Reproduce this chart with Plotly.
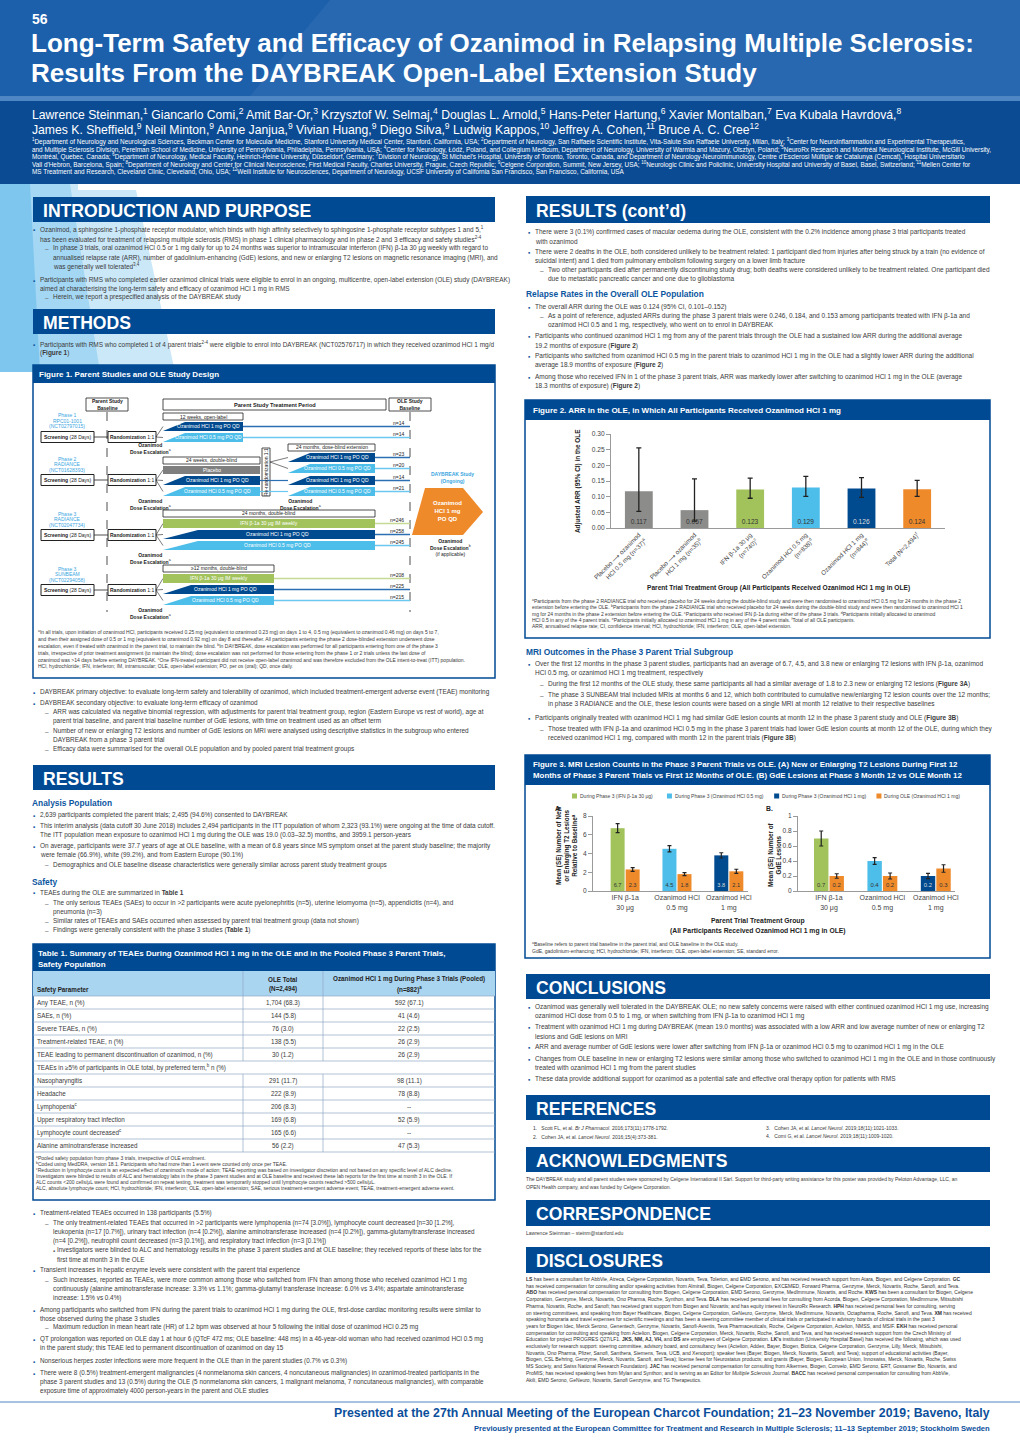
import re
import plotly.graph_objects as go

W, H = 1020, 1442
FONT = "Liberation Sans, Arial, Helvetica, sans-serif"
NAVY = "#004a94"
HEAD_BLUE = "#0c56a0"
BODY = "#3a3a3a"
GRAY_BAR = "#8c8c8a"
GREEN = "#a2c35c"
LBLUE = "#4dbde9"
DBLUE = "#004a8f"
ORANGE = "#ef8a2b"
MIN = 5.0
LSZ = 6.45   # left column body text
RSZ = 6.5    # right column body text

# ---------------- data ----------------
arr_groups = ["Placebo ⟶ ozanimod<br>HCl 0.5 mg (n=37)<sup>a</sup>",
              "Placebo ⟶ ozanimod<br>HCl 1 mg (n=35)<sup>b</sup>",
              "IFN β-1a 30 μg<br>(n=740)<sup>c</sup>",
              "Ozanimod HCl 0.5 mg<br>(n=838)<sup>d</sup>",
              "Ozanimod HCl 1 mg<br>(n=844)<sup>e</sup>",
              "Total (N=2,494)<sup>f</sup>"]
arr_values = [0.117, 0.057, 0.123, 0.129, 0.126, 0.124]
arr_ci_low = [0.053, 0.022, 0.095, 0.101, 0.098, 0.101]
arr_ci_high = [0.256, 0.157, 0.159, 0.165, 0.161, 0.152]
arr_colors = [GRAY_BAR, GRAY_BAR, GREEN, LBLUE, DBLUE, ORANGE]
arr_text_colors = ["#333", "#333", "#333", "#333", "#dddddd", "#333"]

mri_groups = ["IFN β-1a<br>30 μg", "Ozanimod HCl<br>0.5 mg", "Ozanimod HCl<br>1 mg"]
mri_pos = [0, 1, 2]
t2_phase3 = [6.7, 4.5, 3.8]
t2_phase3_se = [0.48, 0.33, 0.28]
t2_ole = [2.3, 1.8, 2.1]
t2_ole_se = [0.2, 0.15, 0.22]
gde_phase3 = [0.7, 0.4, 0.2]
gde_phase3_se = [0.1, 0.045, 0.035]
gde_ole = [0.2, 0.2, 0.3]
gde_ole_se = [0.03, 0.04, 0.05]
phase3_colors = [GREEN, LBLUE, DBLUE]
phase3_text_colors = ["#333", "#333", "#dddddd"]
legend_labels = ["During Phase 3 (IFN β-1a 30 μg)", "During Phase 3 (Ozanimod HCl 0.5 mg)",
                 "During Phase 3 (Ozanimod HCl 1 mg)", "During OLE (Ozanimod HCl 1 mg)"]
legend_colors = [GREEN, LBLUE, DBLUE, ORANGE]

table_params = ["Any TEAE, n (%)", "SAEs, n (%)", "Severe TEAEs, n (%)", "Treatment-related TEAE, n (%)",
                "TEAE leading to permanent discontinuation of ozanimod, n (%)",
                "TEAEs in ≥5% of participants in OLE total, by preferred term,<sup>b</sup> n (%)",
                "Nasopharyngitis", "Headache", "Lymphopenia<sup>c</sup>", "Upper respiratory tract infection",
                "Lymphocyte count decreased<sup>c</sup>", "Alanine aminotransferase increased"]
table_ole = ["1,704 (68.3)", "144 (5.8)", "76 (3.0)", "138 (5.5)", "30 (1.2)", "",
             "291 (11.7)", "222 (8.9)", "206 (8.3)", "169 (6.8)", "165 (6.6)", "56 (2.2)"]
table_phase3 = ["592 (67.1)", "41 (4.6)", "22 (2.5)", "26 (2.9)", "26 (2.9)", "",
                "98 (11.1)", "78 (8.8)", "--", "52 (5.9)", "--", "47 (5.3)"]

# ---------------- helpers ----------------
shapes, ann = [], []


def X(px):
    return px / W


def Y(py):
    return 1 - py / H


def rect(x0, y0, x1, y1, fill="rgba(0,0,0,0)", line="rgba(0,0,0,0)", lw=0, dash=None):
    ln = dict(color=line, width=lw)
    if dash:
        ln["dash"] = dash
    shapes.append(dict(type="rect", xref="paper", yref="paper", x0=X(x0), x1=X(x1),
                       y0=Y(y1), y1=Y(y0), fillcolor=fill, line=ln, layer="below"))


def seg(x0, y0, x1, y1, color="#222", lw=1, dash=None):
    ln = dict(color=color, width=lw)
    if dash:
        ln["dash"] = dash
    shapes.append(dict(type="line", xref="paper", yref="paper", x0=X(x0), x1=X(x1),
                       y0=Y(y0), y1=Y(y1), line=ln, layer="below"))


def poly(pts, fill, line="rgba(0,0,0,0)", lw=0):
    path = "M " + " L ".join(f"{X(a):.5f},{Y(b):.5f}" for a, b in pts) + " Z"
    shapes.append(dict(type="path", xref="paper", yref="paper", path=path, fillcolor=fill,
                       line=dict(color=line, width=lw), layer="below"))


def txt(x, y, s, size=6.2, color=BODY, bold=False, xa="left", ya="middle", angle=0):
    if bold:
        s = f"<b>{s}</b>"
    ann.append(dict(x=X(x), y=Y(y), xref="paper", yref="paper", text=s, showarrow=False,
                    xanchor=xa, yanchor=ya, textangle=angle, borderpad=0, borderwidth=0,
                    font=dict(size=max(size, MIN), color=color, family=FONT)))


def wrap(s, maxc):
    out, cur, n = [], "", 0
    for w in s.split(" "):
        wl = len(re.sub(r"<[^>]+>", "", w))
        if cur and n + 1 + wl > maxc:
            out.append(cur)
            cur, n = w, wl
        else:
            cur = f"{cur} {w}" if cur else w
            n = n + 1 + wl if n else wl
    out.append(cur)
    return out


def block(x, y0, pitch, paragraphs, maxc, size=5.0, color=BODY):
    y = y0
    for p in paragraphs:
        for ln in wrap(p, maxc):
            txt(x, y, ln, size=size, color=color)
            y += pitch


def section(x0, x1, y0, y1, title):
    rect(x0, y0, x1, y1, fill=NAVY)
    txt(x0 + 10, (y0 + y1) / 2 + 1, title, size=17.6, color="white", bold=True)


def para(base, specs, size=LSZ):
    for y, lvl, mark, s in specs:
        if lvl == 1:
            mx, tx, m, mc = base, base + 7, "▪", HEAD_BLUE
        elif lvl == 2:
            mx, tx, m, mc = base + 12, base + 20, "–", "#666"
        else:
            mx, tx, m, mc = base + 20, base + 24, "▪", "#666"
        if mark:
            txt(mx, y, m, size=size, color=mc)
        txt(tx, y, s, size=size)


# ---------------- header ----------------
rect(0, 0, W, 97, fill="#1c60ac")
poly([(330, 0), (W, 0), (W, 96), (250, 96)], fill="rgba(255,255,255,0.05)")
rect(0, 96, W, 101, fill="#4f86c4")
rect(0, 101, W, 184, fill="#0b4b93")
poly([(0, 184), (78, 184), (78, 190), (136, 190), (175, 372), (0, 372)], fill="#cbe8f8")
poly([(0, 184), (70, 184), (100, 372), (0, 372)], fill="#a4d7f4")
poly([(0, 184), (30, 184), (40, 372), (0, 372)], fill="#7fc6ee")

txt(32, 19, "56", size=14, color="white", bold=True)
txt(31, 43, "Long-Term Safety and Efficacy of Ozanimod in Relapsing Multiple Sclerosis:", size=26, color="white", bold=True)
txt(31, 73, "Results From the DAYBREAK Open-Label Extension Study", size=26, color="white", bold=True)
txt(32, 114, "Lawrence Steinman,<sup>1</sup> Giancarlo Comi,<sup>2</sup> Amit Bar-Or,<sup>3</sup> Krzysztof W. Selmaj,<sup>4</sup> Douglas L. Arnold,<sup>5</sup> Hans-Peter Hartung,<sup>6</sup> Xavier Montalban,<sup>7</sup> Eva Kubala Havrdová,<sup>8</sup>", size=12.2, color="white")
txt(32, 129, "James K. Sheffield,<sup>9</sup> Neil Minton,<sup>9</sup> Anne Janjua,<sup>9</sup> Vivian Huang,<sup>9</sup> Diego Silva,<sup>9</sup> Ludwig Kappos,<sup>10</sup> Jeffrey A. Cohen,<sup>11</sup> Bruce A. C. Cree<sup>12</sup>", size=12.2, color="white")
affil = [
    "<sup>1</sup>Department of Neurology and Neurological Sciences, Beckman Center for Molecular Medicine, Stanford University Medical Center, Stanford, California, USA; <sup>2</sup>Department of Neurology, San Raffaele Scientific Institute, Vita-Salute San Raffaele University, Milan, Italy; <sup>3</sup>Center for Neuroinflammation and Experimental Therapeutics,",
    "and Multiple Sclerosis Division, Perelman School of Medicine, University of Pennsylvania, Philadelphia, Pennsylvania, USA; <sup>4</sup>Center for Neurology, Łódź, Poland, and Collegium Medicum, Department of Neurology, University of Warmia and Mazury, Olsztyn, Poland; <sup>5</sup>NeuroRx Research and Montréal Neurological Institute, McGill University,",
    "Montréal, Quebec, Canada; <sup>6</sup>Department of Neurology, Medical Faculty, Heinrich-Heine University, Düsseldorf, Germany; <sup>7</sup>Division of Neurology, St Michael's Hospital, University of Toronto, Toronto, Canada, and Department of Neurology-Neuroimmunology, Centre d'Esclerosi Múltiple de Catalunya (Cemcat), Hospital Universitario",
    "Vall d'Hebron, Barcelona, Spain; <sup>8</sup>Department of Neurology and Center for Clinical Neuroscience, First Medical Faculty, Charles University, Prague, Czech Republic; <sup>9</sup>Celgene Corporation, Summit, New Jersey, USA; <sup>10</sup>Neurologic Clinic and Policlinic, University Hospital and University of Basel, Basel, Switzerland; <sup>11</sup>Mellen Center for",
    "MS Treatment and Research, Cleveland Clinic, Cleveland, Ohio, USA; <sup>12</sup>Weill Institute for Neurosciences, Department of Neurology, UCSF University of California San Francisco, San Francisco, California, USA",
]
for i, s in enumerate(affil):
    txt(32, 142 + i * 7.5, s, size=6.4, color="white")

# ---------------- left column ----------------
section(33, 495, 197, 222, "INTRODUCTION AND PURPOSE")
para(33, [
    (229.5, 1, True, "Ozanimod, a sphingosine 1-phosphate receptor modulator, which binds with high affinity selectively to sphingosine 1-phosphate receptor subtypes 1 and 5,<sup>1</sup>"),
    (239, 1, False, "has been evaluated for treatment of relapsing multiple sclerosis (RMS) in phase 1 clinical pharmacology and in phase 2 and 3 efficacy and safety studies<sup>2-4</sup>"),
    (248.3, 2, True, "In phase 3 trials, oral ozanimod HCl 0.5 or 1 mg daily for up to 24 months was superior to intramuscular interferon (IFN) β-1a 30 μg weekly with regard to"),
    (257.7, 2, False, "annualised relapse rate (ARR), number of gadolinium-enhancing (GdE) lesions, and new or enlarging T2 lesions on magnetic resonance imaging (MRI), and"),
    (266.7, 2, False, "was generally well tolerated<sup>3,4</sup>"),
    (280, 1, True, "Participants with RMS who completed earlier ozanimod clinical trials were eligible to enrol in an ongoing, multicentre, open-label extension (OLE) study (DAYBREAK)"),
    (288.5, 1, False, "aimed at characterising the long-term safety and efficacy of ozanimod HCl 1 mg in RMS"),
    (297.3, 2, True, "Herein, we report a prespecified analysis of the DAYBREAK study"),
])
section(33, 495, 309, 334, "METHODS")
para(33, [
    (344, 1, True, "Participants with RMS who completed 1 of 4 parent trials<sup>2-4</sup> were eligible to enrol into DAYBREAK (NCT02576717) in which they received ozanimod HCl 1 mg/d"),
    (353, 1, False, "(<b>Figure 1</b>)"),
])

# Figure 1 box
rect(33, 365, 495, 678, fill="white", line=NAVY, lw=1.5)
rect(33, 365, 495, 383, fill=NAVY)
txt(39, 374, "Figure 1. Parent Studies and OLE Study Design", size=8, color="white", bold=True)

# --- diagram ---
seg(107, 412, 107, 612, "#222", 0.8, "dash")
seg(410, 412, 410, 612, "#222", 0.8, "dash")
rect(86, 398, 128, 411, fill="white", line="#222", lw=0.8)
txt(107, 404.5, "Parent Study<br>Baseline", size=5, color="#222", bold=True, xa="center")
rect(163, 399, 386, 410, fill="white", line="#222", lw=0.8)
txt(274.5, 404.5, "Parent Study Treatment Period", size=5.6, color="#222", bold=True, xa="center")
rect(389, 398, 431, 411, fill="white", line="#222", lw=0.8)
txt(410, 404.5, "OLE Study<br>Baseline", size=5, color="#222", bold=True, xa="center")


def pbar(x0, y0, x1, y1, color, label, slant=22):
    poly([(x0, y1), (x0 + slant, y0), (x1, y0), (x1, y1)], fill=color)
    txt((x0 + slant / 2 + x1) / 2, (y0 + y1) / 2, label, size=5, color="white", xa="center")


def sbar(x0, y0, x1, y1, color, label):
    rect(x0, y0, x1, y1, fill=color)
    txt((x0 + x1) / 2, (y0 + y1) / 2, label, size=5, color="white", xa="center")


def period(x0, y0, x1, y1, label):
    rect(x0, y0, x1, y1, fill="white", line="#222", lw=0.8)
    txt((x0 + x1) / 2, (y0 + y1) / 2, label, size=5, color="#222", xa="center")


def trial(label, ly, sy, targets, esc_y):
    for i, l in enumerate(label):
        txt(67, ly + i * 5.5, l, size=5, color="#3aa6df", xa="center")
    rect(41, sy - 5.5, 94, sy + 5.5, fill="white", line="#222", lw=1)
    txt(67.5, sy, "<b>Screening</b> (28 Days)", size=5, color="#222", xa="center")
    rect(108, sy - 5.5, 156, sy + 5.5, fill="white", line="#222", lw=1)
    txt(132, sy, "<b>Randomization</b> 1:1", size=5, color="#222", xa="center")
    seg(94, sy, 108, sy, "#222", 0.8)
    for ty in targets:
        seg(156, sy, 163, ty, "#222", 0.6)
    txt(150, esc_y, "<b>Ozanimod<br>Dose Escalation</b><sup>a</sup>", size=5, color="#222", xa="center")


# row 1 (phase 1)
trial(["Phase 1", "RPC01-1001", "(NCT02797015)"], 415, 437, [426.5, 437.5], 449)
period(163, 413, 243, 420, "12 weeks, open-label")
pbar(163, 422, 243, 431, DBLUE, "Ozanimod HCl 1 mg PO QD")
pbar(163, 433, 243, 442, LBLUE, "Ozanimod HCl 0.5 mg PO QD")
seg(243, 426.5, 410, 426.5, "#2d6fb3", 1.3)
seg(243, 437.5, 410, 437.5, "#6cc8ef", 1.3)
# row 2 (phase 2)
trial(["Phase 2", "RADIANCE", "(NCT01628393)"], 459, 480, [470, 480.5, 491.5], 504)
period(163, 457, 260, 464, "24 weeks, double-blind")
sbar(163, 466, 260, 474, "#7f7f7f", "Placebo")
pbar(163, 476, 260, 485, DBLUE, "Ozanimod HCl 1 mg PO QD")
pbar(163, 487, 260, 496, LBLUE, "Ozanimod HCl 0.5 mg PO QD")
rect(262, 448, 270, 496, fill="white", line="#222", lw=0.8)
txt(266, 472, "Re-randomization 1:1", size=5, color="#222", xa="center", angle=-90)
period(288, 444, 375, 451, "24 months, dose-blind extension")
for yy in (457.5, 468.5):
    seg(270, 462, 288, yy, "#222", 0.6)
seg(260, 480.5, 288, 480.5, "#2d6fb3", 1.2)
seg(260, 491.5, 288, 491.5, "#6cc8ef", 1.2)
pbar(288, 453, 375, 462, DBLUE, "Ozanimod HCl 1 mg PO QD")
pbar(288, 464, 375, 473, LBLUE, "Ozanimod HCl 0.5 mg PO QD")
pbar(288, 476, 375, 485, DBLUE, "Ozanimod HCl 1 mg PO QD")
pbar(288, 487, 375, 496, LBLUE, "Ozanimod HCl 0.5 mg PO QD")
txt(300, 504, "<b>Ozanimod<br>Dose Escalation</b><sup>a</sup>", size=5, color="#222", xa="center")
for yy, c in ((457.5, "#2d6fb3"), (468.5, "#6cc8ef"), (480.5, "#2d6fb3"), (491.5, "#6cc8ef")):
    seg(375, yy, 410, yy, c, 1.3)
# row 3 (RADIANCE phase 3)
trial(["Phase 3", "RADIANCE", "(NCT02047734)"], 514, 535, [523.5, 534.5, 545.5], 558)
period(163, 510, 375, 517, "24 months, double-blind")
sbar(163, 519, 375, 528, GREEN, "IFN β-1a 30 μg IM weekly")
pbar(163, 530, 375, 539, DBLUE, "Ozanimod HCl 1 mg PO QD", slant=35)
pbar(163, 541, 375, 550, LBLUE, "Ozanimod HCl 0.5 mg PO QD", slant=35)
seg(375, 523.5, 410, 523.5, "#c5db95", 1.3)
seg(375, 534.5, 410, 534.5, "#2d6fb3", 1.3)
seg(375, 545.5, 410, 545.5, "#6cc8ef", 1.3)
# row 4 (SUNBEAM)
trial(["Phase 3", "SUNBEAM", "(NCT02294058)"], 569, 590, [578.5, 589.5, 600.5], 613)
period(163, 565, 274, 572, "≥12 months, double-blind")
sbar(163, 574, 274, 583, GREEN, "IFN β-1a 30 μg IM weekly")
pbar(163, 585, 274, 594, DBLUE, "Ozanimod HCl 1 mg PO QD", slant=28)
pbar(163, 596, 274, 605, LBLUE, "Ozanimod HCl 0.5 mg PO QD", slant=28)
seg(274, 578.5, 410, 578.5, "#c5db95", 1.3)
seg(274, 589.5, 410, 589.5, "#2d6fb3", 1.3)
seg(274, 600.5, 410, 600.5, "#6cc8ef", 1.3)
for yy, n in ((426.5, "n=14"), (437.5, "n=14"), (457.5, "n=23"), (468.5, "n=20"), (480.5, "n=14"), (491.5, "n=21"),
              (523.5, "n=246"), (534.5, "n=258"), (545.5, "n=245"), (578.5, "n=208"), (589.5, "n=225"), (600.5, "n=215")):
    txt(404, yy - 3.5, n, size=5, color="#222", xa="right")
# OLE arrow
poly([(425, 488), (463, 488), (483, 512), (463, 535), (412, 535)], fill=ORANGE)
txt(447, 511, "Ozanimod<br>HCl 1 mg<br>PO QD", size=6, color="white", bold=True, xa="center")
txt(452, 477, "DAYBREAK Study<br>(Ongoing)", size=5, color="#3aa6df", bold=True, xa="center")
txt(450, 547, "<b>Ozanimod<br>Dose Escalation</b><sup>b</sup><br>(if applicable)", size=5, color="#222", xa="center")

fig1_notes = [
    "<sup>a</sup>In all trials, upon initiation of ozanimod HCl, participants received 0.25 mg (equivalent to ozanimod 0.23 mg) on days 1 to 4, 0.5 mg (equivalent to ozanimod 0.46 mg) on days 5 to 7, and then their assigned dose of 0.5 or 1 mg (equivalent to ozanimod 0.92 mg) on day 8 and thereafter. All participants entering the phase 2 dose-blinded extension underwent dose escalation, even if treated with ozanimod in the parent trial, to maintain the blind. <sup>b</sup>In DAYBREAK, dose escalation was performed for all participants entering from one of the phase 3 trials, irrespective of prior treatment assignment (to maintain the blind); dose escalation was not performed for those entering from the phase 1 or 2 trials unless the last dose of ozanimod was >14 days before entering DAYBREAK. <sup>c</sup>One IFN-treated participant did not receive open-label ozanimod and was therefore excluded from the OLE intent-to-treat (ITT) population.",
    "HCl, hydrochloride; IFN, interferon; IM, intramuscular; OLE, open-label extension; PO, per os (oral); QD, once daily.",
]
block(38, 632, 6.9, fig1_notes, 186)

para(33, [
    (692, 1, True, "DAYBREAK primary objective: to evaluate long-term safety and tolerability of ozanimod, which included treatment-emergent adverse event (TEAE) monitoring"),
    (703, 1, True, "DAYBREAK secondary objective: to evaluate long-term efficacy of ozanimod"),
    (712, 2, True, "ARR was calculated via negative binomial regression, with adjustments for parent trial treatment group, region (Eastern Europe vs rest of world), age at"),
    (721, 2, False, "parent trial baseline, and parent trial baseline number of GdE lesions, with time on treatment used as an offset term"),
    (731, 2, True, "Number of new or enlarging T2 lesions and number of GdE lesions on MRI were analysed using descriptive statistics in the subgroup who entered"),
    (740, 2, False, "DAYBREAK from a phase 3 parent trial"),
    (749, 2, True, "Efficacy data were summarised for the overall OLE population and by pooled parent trial treatment groups"),
])
section(33, 495, 765, 790, "RESULTS")
txt(32, 803, "Analysis Population", size=8.4, color=HEAD_BLUE, bold=True)
para(33, [
    (815, 1, True, "2,639 participants completed the parent trials; 2,495 (94.6%) consented to DAYBREAK"),
    (826, 1, True, "This interim analysis (data cutoff 30 June 2018) includes 2,494 participants in the ITT population of whom 2,323 (93.1%) were ongoing at the time of data cutoff."),
    (835, 1, False, "The ITT population mean exposure to ozanimod HCl 1 mg during the OLE was 19.0 (0.03–32.5) months, and 3959.1 person-years"),
    (846, 1, True, "On average, participants were 37.7 years of age at OLE baseline, with a mean of 6.8 years since MS symptom onset at the parent study baseline; the majority"),
    (855, 1, False, "were female (66.9%), white (99.2%), and from Eastern Europe (90.1%)"),
    (865, 2, True, "Demographics and OLE baseline disease characteristics were generally similar across parent study treatment groups"),
])
txt(32, 882, "Safety", size=8.4, color=HEAD_BLUE, bold=True)
para(33, [
    (893, 1, True, "TEAEs during the OLE are summarized in <b>Table 1</b>"),
    (903, 2, True, "The only serious TEAEs (SAEs) to occur in >2 participants were acute pyelonephritis (n=5), uterine leiomyoma (n=5), appendicitis (n=4), and"),
    (912, 2, False, "pneumonia (n=3)"),
    (921, 2, True, "Similar rates of TEAEs and SAEs occurred when assessed by parent trial treatment group (data not shown)"),
    (930, 2, True, "Findings were generally consistent with the phase 3 studies (<b>Table 1</b>)"),
])

# ---------------- Table 1 ----------------
rect(33, 944, 495, 1200, fill="white", line=NAVY, lw=1.5)
rect(33, 944, 495, 971, fill=NAVY)
txt(38, 953, "Table 1. Summary of TEAEs During Ozanimod HCl 1 mg in the OLE and in the Pooled Phase 3 Parent Trials,", size=8, color="white", bold=True)
txt(38, 964, "Safety Population", size=8, color="white", bold=True)
rect(33, 971, 495, 996, fill="#a9d5f1")
c1, c2 = 243, 323
top, pitch = 996, 13.0
txt(37, 990, "Safety Parameter", size=6.3, color="#222", bold=True)
txt(283, 979, "OLE Total", size=6.3, color="#222", bold=True, xa="center")
txt(283, 989, "(N=2,494)", size=6.3, color="#222", bold=True, xa="center")
txt(409, 979, "Ozanimod HCl 1 mg During Phase 3 Trials (Pooled)", size=6.3, color="#222", bold=True, xa="center")
txt(409, 989, "(n=882)<sup>a</sup>", size=6.3, color="#222", bold=True, xa="center")
n_rows = len(table_params)
for i in range(n_rows + 1):
    yy = top + i * pitch
    seg(33, yy, 495, yy, "#8fa9c4", 0.7)
span_i = table_ole.index("")
for cx in (c1, c2):
    seg(cx, 971, cx, top + span_i * pitch, "#8fa9c4", 0.7)
    seg(cx, top + (span_i + 1) * pitch, cx, top + n_rows * pitch, "#8fa9c4", 0.7)
for i, (p, a, b) in enumerate(zip(table_params, table_ole, table_phase3)):
    yc = top + (i + 0.5) * pitch
    txt(37, yc, p, size=6.3)
    if a:
        txt(283, yc, a, size=6.3, xa="center")
    if b:
        txt(409, yc, b, size=6.3, xa="center")
tab_notes = [
    "<sup>a</sup>Pooled safety population from phase 3 trials, irrespective of OLE enrolment.",
    "<sup>b</sup>Coded using MedDRA, version 18.1. Participants who had more than 1 event were counted only once per TEAE.",
    "<sup>c</sup>Reduction in lymphocyte count is an expected effect of ozanimod's mode of action; TEAE reporting was based on investigator discretion and not based on any specific level of ALC decline. Investigators were blinded to results of ALC and hematology labs in the phase 3 parent studies and at OLE baseline and received these lab reports for the first time at month 3 in the OLE. If ALC counts <200 cells/μL were found and confirmed on repeat testing, treatment was temporarily stopped until lymphocyte counts reached >500 cells/μL.",
    "ALC, absolute lymphocyte count; HCl, hydrochloride; IFN, interferon; OLE, open-label extension; SAE, serious treatment-emergent adverse event; TEAE, treatment-emergent adverse event.",
]
block(36, 1158, 5.9, tab_notes, 190)

para(33, [
    (1213, 1, True, "Treatment-related TEAEs occurred in 138 participants (5.5%)"),
    (1223, 2, True, "The only treatment-related TEAEs that occurred in >2 participants were lymphopenia (n=74 [3.0%]), lymphocyte count decreased [n=30 [1.2%],"),
    (1232, 2, False, "leukopenia (n=17 [0.7%]), urinary tract infection (n=4 [0.2%]), alanine aminotransferase increased (n=4 [0.2%]), gamma-glutamyltransferase increased"),
    (1241, 2, False, "(n=4 [0.2%]), neutrophil count decreased (n=3 [0.1%]), and respiratory tract infection (n=3 [0.1%])"),
    (1250, 3, True, "Investigators were blinded to ALC and hematology results in the phase 3 parent studies and at OLE baseline; they received reports of these labs for the"),
    (1259, 3, False, "first time at month 3 in the OLE"),
    (1270, 1, True, "Transient increases in hepatic enzyme levels were consistent with the parent trial experience"),
    (1280, 2, True, "Such increases, reported as TEAEs, were more common among those who switched from IFN than among those who received ozanimod HCl 1 mg"),
    (1289, 2, False, "continuously (alanine aminotransferase increase: 3.3% vs 1.1%; gamma-glutamyl transferase increase: 6.0% vs 3.4%; aspartate aminotransferase"),
    (1298, 2, False, "increase: 1.5% vs 0.4%)"),
    (1310, 1, True, "Among participants who switched from IFN during the parent trials to ozanimod HCl 1 mg during the OLE, first-dose cardiac monitoring results were similar to"),
    (1319, 1, False, "those observed during the phase 3 studies"),
    (1327, 2, True, "Maximum reduction in mean heart rate (HR) of 1.2 bpm was observed at hour 5 following the initial dose of ozanimod HCl 0.25 mg"),
    (1339, 1, True, "QT prolongation was reported on OLE day 1 at hour 6 (QTcF 472 ms; OLE baseline: 448 ms) in a 46-year-old woman who had received ozanimod HCl 0.5 mg"),
    (1348, 1, False, "in the parent study; this TEAE led to permanent discontinuation of ozanimod on day 15"),
    (1361, 1, True, "Nonserious herpes zoster infections were more frequent in the OLE than in the parent studies (0.7% vs 0.3%)"),
    (1373, 1, True, "There were 8 (0.5%) treatment-emergent malignancies (4 nonmelanoma skin cancers, 4 noncutaneous malignancies) in ozanimod-treated participants in the"),
    (1382, 1, False, "phase 3 parent studies and 13 (0.5%) during the OLE (5 nonmelanoma skin cancers, 1 malignant melanoma, 7 noncutaneous malignancies), with comparable"),
    (1391, 1, False, "exposure time of approximately 4000 person-years in the parent and OLE studies"),
], size=6.35)

# ---------------- right column ----------------
R = 528
section(526, 990, 196, 223, "RESULTS (cont’d)")
para(R, [
    (232, 1, True, "There were 3 (0.1%) confirmed cases of macular oedema during the OLE, consistent with the 0.2% incidence among phase 3 trial participants treated"),
    (241, 1, False, "with ozanimod"),
    (252, 1, True, "There were 2 deaths in the OLE, both considered unlikely to be treatment related: 1 participant died from injuries after being struck by a train (no evidence of"),
    (261, 1, False, "suicidal intent) and 1 died from pulmonary embolism following surgery on a lower limb fracture"),
    (270, 2, True, "Two other participants died after permanently discontinuing study drug; both deaths were considered unlikely to be treatment related. One participant died"),
    (279, 2, False, "due to metastatic pancreatic cancer and one due to glioblastoma"),
], size=RSZ)
txt(526, 294, "Relapse Rates in the Overall OLE Population", size=8.4, color=HEAD_BLUE, bold=True)
para(R, [
    (307, 1, True, "The overall ARR during the OLE was 0.124 (95% CI, 0.101–0.152)"),
    (316, 2, True, "As a point of reference, adjusted ARRs during the phase 3 parent trials were 0.246, 0.184, and 0.153 among participants treated with IFN β-1a and"),
    (324.5, 2, False, "ozanimod HCl 0.5 and 1 mg, respectively, who went on to enrol in DAYBREAK"),
    (336, 1, True, "Participants who continued ozanimod HCl 1 mg from any of the parent trials through the OLE had a sustained low ARR during the additional average"),
    (345.5, 1, False, "19.2 months of exposure (<b>Figure 2</b>)"),
    (356, 1, True, "Participants who switched from ozanimod HCl 0.5 mg in the parent trials to ozanimod HCl 1 mg in the OLE had a slightly lower ARR during the additional"),
    (365, 1, False, "average 18.9 months of exposure (<b>Figure 2</b>)"),
    (377, 1, True, "Among those who received IFN in 1 of the phase 3 parent trials, ARR was markedly lower after switching to ozanimod HCl 1 mg in the OLE (average"),
    (386, 1, False, "18.3 months of exposure) (<b>Figure 2</b>)"),
], size=RSZ)

# Figure 2 box
rect(525, 400, 990, 638, fill="white", line=NAVY, lw=1.5)
rect(525, 400, 990, 420, fill=NAVY)
txt(533, 410.5, "Figure 2. ARR in the OLE, in Which All Participants Received Ozanimod HCl 1 mg", size=8, color="white", bold=True)
txt(578, 481, "Adjusted ARR (95% CI) in the OLE", size=6.4, color="#222", bold=True, xa="center", angle=-90)
txt(778, 588, "Parent Trial Treatment Group (All Participants Received Ozanimod HCl 1 mg in OLE)", size=6.6, color="#222", bold=True, xa="center")
fig2_notes = [
    "<sup>a</sup>Participants from the phase 2 RADIANCE trial who received placebo for 24 weeks during the double-blind study and were then randomised to ozanimod HCl 0.5 mg for 24 months in the phase 2 extension before entering the OLE. <sup>b</sup>Participants from the phase 2 RADIANCE trial who received placebo for 24 weeks during the double-blind study and were then randomised to ozanimod HCl 1 mg for 24 months in the phase 2 extension before entering the OLE. <sup>c</sup>Participants who received IFN β-1a during either of the phase 3 trials. <sup>d</sup>Participants initially allocated to ozanimod HCl 0.5 in any of the 4 parent trials. <sup>e</sup>Participants initially allocated to ozanimod HCl 1 mg in any of the 4 parent trials. <sup>f</sup>Total of all OLE participants.",
    "ARR, annualised relapse rate; CI, confidence interval; HCl, hydrochloride; IFN, interferon; OLE, open-label extension.",
]
block(532, 601, 6.3, fig2_notes, 188)

txt(526, 652, "MRI Outcomes in the Phase 3 Parent Trial Subgroup", size=8.4, color=HEAD_BLUE, bold=True)
para(R, [
    (664, 1, True, "Over the first 12 months in the phase 3 parent studies, participants had an average of 6.7, 4.5, and 3.8 new or enlarging T2 lesions with IFN β-1a, ozanimod"),
    (673, 1, False, "HCl 0.5 mg, or ozanimod HCl 1 mg treatment, respectively"),
    (684, 2, True, "During the first 12 months of the OLE study, these same participants all had a similar average of 1.8 to 2.3 new or enlarging T2 lesions (<b>Figure 3A</b>)"),
    (695, 2, True, "The phase 3 SUNBEAM trial included MRIs at months 6 and 12, which both contributed to cumulative new/enlarging T2 lesion counts over the 12 months;"),
    (704, 2, False, "in phase 3 RADIANCE and the OLE, these lesion counts were based on a single MRI at month 12 relative to their respective baselines"),
    (718, 1, True, "Participants originally treated with ozanimod HCl 1 mg had similar GdE lesion counts at month 12 in the phase 3 parent study and OLE (<b>Figure 3B</b>)"),
    (729, 2, True, "Those treated with IFN β-1a and ozanimod HCl 0.5 mg in the phase 3 parent trials had lower GdE lesion counts at month 12 of the OLE, during which they"),
    (738, 2, False, "received ozanimod HCl 1 mg, compared with month 12 in the parent trials (<b>Figure 3B</b>)"),
], size=RSZ)

# Figure 3 box
rect(525, 755, 990, 958, fill="white", line=NAVY, lw=1.5)
rect(525, 755, 990, 785, fill=NAVY)
txt(533, 764.5, "Figure 3. MRI Lesion Counts in the Phase 3 Parent Trials vs OLE. (A) New or Enlarging T2 Lesions During First 12", size=7.9, color="white", bold=True)
txt(533, 775.5, "Months of Phase 3 Parent Trials vs First 12 Months of OLE. (B) GdE Lesions at Phase 3 Month 12 vs OLE Month 12", size=7.9, color="white", bold=True)
lx = 572
for lab, col in zip(legend_labels, legend_colors):
    rect(lx, 793.5, lx + 5, 798.5, fill=col)
    txt(lx + 8, 796, lab, size=5, color="#444")
    lx += 8 + len(lab) * 2.45 + 11
txt(555, 808, "A.", size=6.8, color="#222", bold=True)
txt(766, 808, "B.", size=6.8, color="#222", bold=True)
txt(566, 846, "Mean (SE) Number of New<br>or Enlarging T2 Lesions<br>Relative to Baseline<sup>a</sup>", size=6.3, color="#222", bold=True, xa="center", angle=-90)
txt(775, 855, "Mean (SE) Number of<br>GdE Lesions", size=6.3, color="#222", bold=True, xa="center", angle=-90)
txt(758, 921, "Parent Trial Treatment Group", size=6.8, color="#222", bold=True, xa="center")
txt(758, 931, "(All Participants Received Ozanimod HCl 1 mg in OLE)", size=6.8, color="#222", bold=True, xa="center")
txt(532, 943.5, "<sup>a</sup>Baseline refers to parent trial baseline in the parent trial, and OLE baseline in the OLE study.", size=5)
txt(532, 951, "GdE, gadolinium-enhancing; HCl, hydrochloride; IFN, interferon; OLE, open-label extension; SE, standard error.", size=5)

section(526, 990, 974, 999, "CONCLUSIONS")
para(R, [
    (1007, 1, True, "Ozanimod was generally well tolerated in the DAYBREAK OLE; no new safety concerns were raised with either continued ozanimod HCl 1 mg use, increasing"),
    (1016, 1, False, "ozanimod HCl dose from 0.5 to 1 mg, or when switching from IFN β-1a to ozanimod HCl 1 mg"),
    (1027, 1, True, "Treatment with ozanimod HCl 1 mg during DAYBREAK (mean 19.0 months) was associated with a low ARR and low average number of new or enlarging T2"),
    (1036, 1, False, "lesions and GdE lesions on MRI"),
    (1047, 1, True, "ARR and average number of GdE lesions were lower after switching from IFN β-1a or ozanimod HCl 0.5 mg to ozanimod HCl 1 mg in the OLE"),
    (1059, 1, True, "Changes from OLE baseline in new or enlarging T2 lesions were similar among those who switched to ozanimod HCl 1 mg in the OLE and in those continuously"),
    (1068, 1, False, "treated with ozanimod HCl 1 mg from the parent studies"),
    (1079, 1, True, "These data provide additional support for ozanimod as a potential safe and effective oral therapy option for patients with RMS"),
], size=RSZ)
section(526, 990, 1095, 1120, "REFERENCES")
txt(533, 1128, "1.   Scott FL, et al. <i>Br J Pharmacol.</i> 2016;173(11):1778-1792.", size=5)
txt(533, 1137, "2.   Cohen JA, et al. <i>Lancet Neurol.</i> 2016;15(4):373-381.", size=5)
txt(766, 1128, "3.   Cohen JA, et al. <i>Lancet Neurol.</i> 2019;18(11):1021-1033.", size=5)
txt(766, 1135.5, "4.   Comi G, et al. <i>Lancet Neurol.</i> 2019;18(11):1009-1020.", size=5)
section(526, 990, 1147, 1172, "ACKNOWLEDGMENTS")
block(526, 1179, 7.5, ["The DAYBREAK study and all parent studies were sponsored by Celgene International II Sàrl. Support for third-party writing assistance for this poster was provided by Peloton Advantage, LLC, an OPEN Health company, and was funded by Celgene Corporation."], 192)
section(526, 990, 1200, 1226, "CORRESPONDENCE")
txt(526, 1233, "Lawrence Steinman – steinm@stanford.edu", size=5)
section(526, 990, 1247, 1273, "DISCLOSURES")
discl = ("<b>LS</b> has been a consultant for AbbVie, Atreca, Celgene Corporation, Novartis, Teva, Tolerion, and EMD Serono, and has received research support from Atara, Biogen, and Celgene Corporation. "
         "<b>GC</b> has received compensation for consulting and/or speaking activities from Almirall, Biogen, Celgene Corporation, EXCEMED, Forward Pharma, Genzyme, Merck, Novartis, Roche, Sanofi, and Teva. "
         "<b>ABO</b> has received personal compensation for consulting from Biogen, Celgene Corporation, EMD Serono, Genzyme, MedImmune, Novartis, and Roche. "
         "<b>KWS</b> has been a consultant for Biogen, Celgene Corporation, Genzyme, Merck, Novartis, Ono Pharma, Roche, Synthon, and Teva. "
         "<b>DLA</b> has received personal fees for consulting from Acorda, Biogen, Celgene Corporation, MedImmune, Mitsubishi Pharma, Novartis, Roche, and Sanofi; has received grant support from Biogen and Novartis; and has equity interest in NeuroRx Research. "
         "<b>HPH</b> has received personal fees for consulting, serving on steering committees, and speaking from Bayer Healthcare, Biogen, Celgene Corporation, GeNeuro, Genzyme, Merck, MedImmune, Novartis, Octapharma, Roche, Sanofi, and Teva. "
         "<b>XM</b> has received speaking honoraria and travel expenses for scientific meetings and has been a steering committee member of clinical trials or participated in advisory boards of clinical trials in the past 3 years for Biogen Idec, Merck Serono, Genentech, Genzyme, Novartis, Sanofi-Aventis, Teva Pharmaceuticals, Roche, Celgene Corporation, Actelion, NMSS, and MSIF. "
         "<b>EKH</b> has received personal compensation for consulting and speaking from Actelion, Biogen, Celgene Corporation, Merck, Novartis, Roche, Sanofi, and Teva, and has received research support from the Czech Ministry of Education for project PROGRES Q27/LF1. "
         "<b>JKS,</b> <b>NM,</b> <b>AJ,</b> <b>VH,</b> and <b>DS</b> are employees of Celgene Corporation. "
         "<b>LK's</b> institution (University Hospital Basel) has received the following, which was used exclusively for research support: steering committee, advisory board, and consultancy fees (Actelion, Addex, Bayer, Biogen, Biotica, Celgene Corporation, Genzyme, Lilly, Merck, Mitsubishi, Novartis, Ono Pharma, Pfizer, Sanofi, Santhera, Siemens, Teva, UCB, and Xenoport); speaker fees (Bayer, Biogen, Merck, Novartis, Sanofi, and Teva); support of educational activities (Bayer, Biogen, CSL Behring, Genzyme, Merck, Novartis, Sanofi, and Teva); license fees for Neurostatus products; and grants (Bayer, Biogen, European Union, Innoswiss, Merck, Novartis, Roche, Swiss MS Society, and Swiss National Research Foundation). "
         "<b>JAC</b> has received personal compensation for consulting from Alkermes, Biogen, Convelo, EMD Serono, ERT, Gossamer Bio, Novartis, and ProMIS; has received speaking fees from Mylan and Synthon; and is serving as an Editor for <i>Multiple</i> <i>Sclerosis</i> <i>Journal</i>. "
         "<b>BACC</b> has received personal compensation for consulting from AbbVie, Akili, EMD Serono, GeNeuro, Novartis, Sanofi Genzyme, and TG Therapeutics.")
block(526, 1279, 6.7, [discl], 190, color="#333")

# footer
seg(0, 1402, W, 1402, "#4f86c4", 1)
txt(990, 1413, "Presented at the 27th Annual Meeting of the European Charcot Foundation; 21–23 November 2019; Baveno, Italy", size=12.3, color="#0b4f9c", bold=True, xa="right")
txt(990, 1428, "Previously presented at the European Committee for Treatment and Research in Multiple Sclerosis; 11–13 September 2019; Stockholm Sweden", size=7.6, color="#0b4f9c", bold=True, xa="right")

# ---------------- charts ----------------
fig = go.Figure()
fig.add_trace(go.Bar(
    x=arr_groups, y=arr_values, width=0.5, marker=dict(color=arr_colors, line=dict(width=0)),
    error_y=dict(type="data", symmetric=False,
                 array=[h - v for h, v in zip(arr_ci_high, arr_values)],
                 arrayminus=[v - l for v, l in zip(arr_values, arr_ci_low)],
                 color="#222", thickness=1.3, width=2.5),
    text=[f"{v:.3f}" for v in arr_values], textposition="inside", insidetextanchor="start",
    textangle=0, textfont=dict(size=6.6, color=arr_text_colors, family=FONT),
    xaxis="x", yaxis="y", showlegend=False, hoverinfo="skip"))

for xa, ya, p3, p3se, ole, olese in (("x2", "y2", t2_phase3, t2_phase3_se, t2_ole, t2_ole_se),
                                      ("x3", "y3", gde_phase3, gde_phase3_se, gde_ole, gde_ole_se)):
    fig.add_trace(go.Bar(
        x=mri_pos, y=p3, width=0.27, offset=-0.28, marker=dict(color=phase3_colors, line=dict(width=0)),
        error_y=dict(type="data", array=p3se, color="#222", thickness=1.2, width=2),
        text=[f"{v:.1f}" for v in p3], textposition="inside", insidetextanchor="start", textangle=0,
        textfont=dict(size=6.8, color=phase3_text_colors, family=FONT),
        xaxis=xa, yaxis=ya, showlegend=False, hoverinfo="skip"))
    fig.add_trace(go.Bar(
        x=mri_pos, y=ole, width=0.27, offset=0.01, marker=dict(color=ORANGE, line=dict(width=0)),
        error_y=dict(type="data", array=olese, color="#222", thickness=1.2, width=2),
        text=[f"{v:.1f}" for v in ole], textposition="inside", insidetextanchor="start", textangle=0,
        textfont=dict(size=6.8, color="#333", family=FONT),
        xaxis=xa, yaxis=ya, showlegend=False, hoverinfo="skip"))

line_common = dict(showgrid=False, zeroline=False, showline=True, linecolor="#9a9a9a", linewidth=1,
                   automargin=False)
yfont = dict(size=6.6, color="#444", family=FONT)
fig.update_layout(
    width=W, height=H, autosize=False, margin=dict(l=0, r=0, t=0, b=0, pad=0, autoexpand=False),
    paper_bgcolor="white", plot_bgcolor="rgba(0,0,0,0)",
    barmode="overlay", shapes=shapes, annotations=ann,
    font=dict(family=FONT, color=BODY),
    xaxis=dict(domain=[X(611), X(945)], anchor="y", type="category", tickangle=-45, ticks="",
               tickfont=dict(size=6.3, color="#444", family=FONT), **line_common),
    yaxis=dict(domain=[Y(528), Y(434)], anchor="x", range=[0, 0.3], dtick=0.05, tickformat=".2f",
               ticks="outside", ticklen=4, tickcolor="#9a9a9a", tickfont=yfont, **line_common),
    xaxis2=dict(domain=[X(593), X(748)], anchor="y2", range=[-0.62, 2.37], tickvals=mri_pos,
                ticktext=mri_groups, ticks="", tickfont=dict(size=7, color="#444", family=FONT), **line_common),
    yaxis2=dict(domain=[Y(891), Y(816)], anchor="x2", range=[0, 8], dtick=2, ticks="outside",
                ticklen=4, tickcolor="#9a9a9a", tickfont=yfont, **line_common),
    xaxis3=dict(domain=[X(798), X(955)], anchor="y3", range=[-0.58, 2.36], tickvals=mri_pos,
                ticktext=mri_groups, ticks="", tickfont=dict(size=7, color="#444", family=FONT), **line_common),
    yaxis3=dict(domain=[Y(891), Y(816)], anchor="x3", range=[0, 1], dtick=0.2, ticks="outside",
                ticklen=4, tickcolor="#9a9a9a", tickfont=yfont, **line_common),
)
fig.write_html("out.html", config={"displayModeBar": False},
               post_script="document.body.style.margin='0';document.documentElement.style.overflow='hidden';document.body.style.overflow='hidden';")
